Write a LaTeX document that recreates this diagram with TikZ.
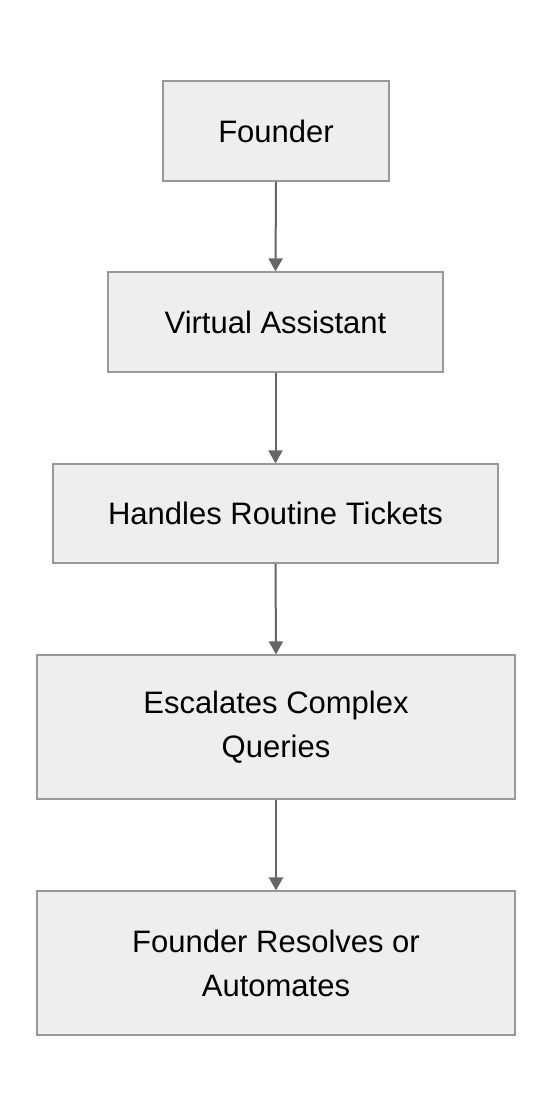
\documentclass[tikz,border=0pt]{standalone}
\usepackage{fontspec}
\setmainfont{Liberation Sans}
\usetikzlibrary{arrows.meta}
\definecolor{boxfill}{HTML}{EEEEEE}
\definecolor{boxline}{HTML}{999999}
\definecolor{arrowc}{HTML}{666666}
\begin{document}
\begin{tikzpicture}[x=1pt,y=1pt,
  box/.style={draw=boxline, line width=1.2pt, fill=boxfill, inner sep=0pt,
    font=\fontsize{31}{44}\selectfont, align=center},
  conn/.style={draw=arrowc, line width=2pt, -{Triangle[length=13pt,width=14pt]}}]
\useasboundingbox (0,0) rectangle (552,-1116);
\fill[white] (0,0) rectangle (552,-1116);
\node[box, minimum width=226pt, minimum height=100pt] (a) at (276,-131) {Founder};
\node[box, minimum width=335pt, minimum height=100pt] (b) at (275.5,-322) {Virtual Assistant};
\node[box, minimum width=445pt, minimum height=99pt] (c) at (275.5,-513.5) {Handles Routine Tickets};
\node[box, minimum width=478pt, minimum height=144pt] (d) at (276,-727) {Escalates Complex\\Queries};
\node[box, minimum width=478pt, minimum height=144pt] (e) at (276,-963) {Founder Resolves or\\Automates};
\draw[conn] (a.south) -- (b.north);
\draw[conn] (b.south) -- (c.north);
\draw[conn] (c.south) -- (d.north);
\draw[conn] (d.south) -- (e.north);
\end{tikzpicture}
\end{document}
